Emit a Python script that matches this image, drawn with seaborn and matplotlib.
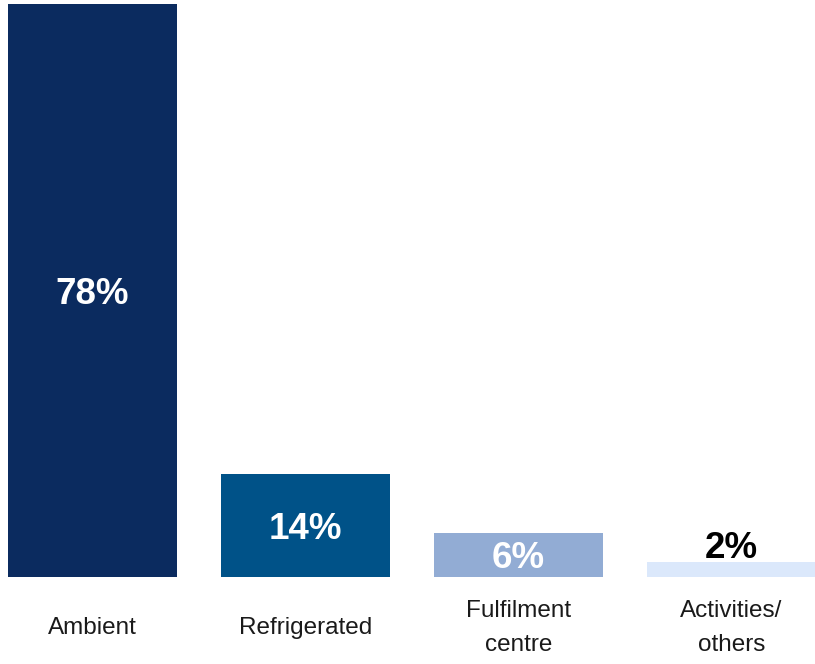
import matplotlib
matplotlib.use("Agg")
import matplotlib.pyplot as plt
import seaborn as sns
import pandas as pd

categories = ["Ambient", "Refrigerated", "Fulfilment\ncentre", "Activities/\nothers"]
shares = [78, 14, 6, 2]
bar_colors = ["#0b2b5f", "#005288", "#92acd4", "#dbe8fb"]
label_colors = ["white", "white", "white", "black"]

sns.set_theme(style="white")
plt.rcParams["font.family"] = ["Liberation Sans", "DejaVu Sans"]

df = pd.DataFrame({"category": categories, "share": shares})

fig = plt.figure(figsize=(8.15, 6.64), dpi=100)
ax = fig.add_axes([0, 87 / 664, 1, 577 / 664])

sns.barplot(data=df, x="category", y="share", hue="category",
            palette=bar_colors, width=0.792, legend=False, ax=ax,
            saturation=1, linewidth=0)

ax.set_xlim(-0.434, 3.392)
ax.set_ylim(0, 78 * 577 / 573)
ax.set_xlabel("")
ax.set_ylabel("")
ax.set_xticks([])
ax.set_yticks([])
for s in ax.spines.values():
    s.set_visible(False)

# category names, vertically centred below the baseline
for i, name in enumerate(categories):
    ax.annotate(name, xy=(i, 0), xytext=(0, -51), textcoords="offset pixels",
                ha="center", va="center", fontsize=17.5, color="#1a1a1a",
                linespacing=1.65, annotation_clip=False)

# value labels: inside the bar when it is tall enough, above it otherwise
for i, (v, c) in enumerate(zip(shares, label_colors)):
    if v >= 5:
        ax.annotate(f"{v}%", xy=(i, v / 2), xytext=(0, -4), textcoords="offset pixels",
                    ha="center", va="center", color=c, fontsize=26.5,
                    fontweight="bold")
    else:
        ax.annotate(f"{v}%", xy=(i, v), xytext=(0, 14), textcoords="offset pixels",
                    ha="center", va="center", color=c, fontsize=26.5,
                    fontweight="bold")

fig.savefig("out.png", dpi=100)
